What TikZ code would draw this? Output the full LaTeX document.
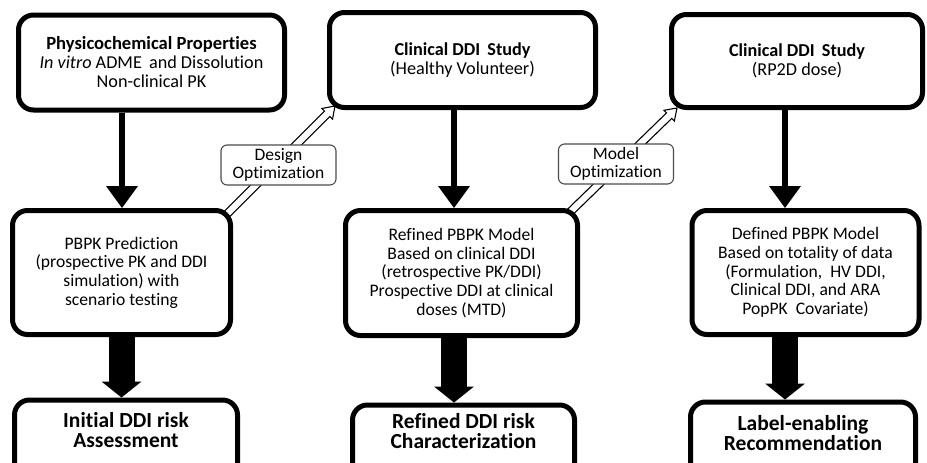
\documentclass[tikz,border=0pt]{standalone}
\usepackage{fontspec}
\setmainfont{Carlito}[Ligatures=NoCommon]
\usetikzlibrary{arrows.meta,calc}
\tikzset{
  mainbox/.style={draw=black, line width=5pt, rounded corners=15pt, fill=white, align=center,
    font=\fontsize{17.6}{18.6}\selectfont, inner sep=0pt},
  topbox/.style={mainbox, font=\fontsize{18.2}{19}\selectfont},
  optbox/.style={draw=black!70, line width=1.1pt, rounded corners=6pt, fill=white, align=center,
    minimum width=115pt, minimum height=40pt, inner sep=0pt, font=\fontsize{17.5}{18.5}\selectfont},
  thinarrow/.style={line width=6pt, -{Triangle[length=22pt,width=32pt,line width=0pt]}},
  thickarrow/.style={line width=26pt, -{Triangle[length=16pt,width=40pt,line width=0pt]}},
  bottomtext/.style={font=\fontsize{21.5}{20}\selectfont\bfseries, align=center, inner sep=0pt},
  hollow/.style={draw=black, line width=1.1pt, fill=white, line join=miter},
}
\newcommand\hollowarrow[3]{%
  \coordinate (#3) at ($(#2)!11pt!(#1)$);
  \draw[hollow] ($(#1)!3.8pt!90:(#2)$) -- ($(#3)!3.8pt!90:(#2)$) -- ($(#3)!7.5pt!90:(#2)$)
    -- (#2) -- ($(#3)!7.5pt!-90:(#2)$) -- ($(#3)!3.8pt!-90:(#2)$) -- ($(#1)!3.8pt!-90:(#2)$) -- cycle;
}
\begin{document}
\begin{tikzpicture}[x=1pt,y=-1pt]
\useasboundingbox (0,0) rectangle (927,463);
\fill[white] (0,0) rectangle (927,463);
\clip (0,0) rectangle (927,463);

% hollow connector anchors (boxes drawn after cover tails)
\coordinate (dA) at (222,219);
\coordinate (dB) at (335,106);
\coordinate (mA) at (566,216);
\coordinate (mB) at (677,108);
\hollowarrow{dA}{dB}{dC}
\hollowarrow{mA}{mB}{mC}

% top boxes
\node[topbox, minimum width=266pt, minimum height=95pt] (phys) at (151.5,62.5)
  {\textbf{\fontsize{18.6}{19}\selectfont Physicochemical Properties}\\\textit{In vitro} ADME\, and Dissolution\\Non-clinical PK};
\node[topbox, minimum width=266pt, minimum height=95pt] (hv) at (462.5,60)
  {\textbf{Clinical DDI\, Study}\\(Healthy Volunteer)};
\node[topbox, minimum width=251pt, minimum height=93pt] (rp) at (797,61)
  {\textbf{Clinical DDI\, Study}\\(RP2D dose)};

% middle boxes
\node[mainbox, minimum width=218pt, minimum height=124pt] (pbpk) at (121.5,272.5)
  {PBPK Prediction\\(prospective PK and DDI\\simulation) with\\scenario testing};
\node[mainbox, minimum width=232pt, minimum height=125pt] (ref) at (461.5,273)
  {Refined PBPK Model\\Based on clinical DDI\\(retrospective PK/DDI)\\Prospective DDI at clinical\\doses (MTD)};
\node[mainbox, minimum width=227pt, minimum height=124pt] (def) at (805.5,272.5)
  {Defined PBPK Model\\Based on totality of data\\(Formulation,\ \ HV DDI,\\Clinical DDI, and ARA\\PopPK\ \ Covariate)};

% bottom boxes
\node[mainbox, minimum width=223pt, minimum height=80pt, anchor=north] (r1) at (126,397.5) {};
\node[mainbox, minimum width=222pt, minimum height=80pt, anchor=north] (r2) at (463.5,402.5) {};
\node[mainbox, minimum width=225pt, minimum height=80pt, anchor=north] (r3) at (803,399.5) {};
\node[bottomtext] (r1t) at (126,430) {Initial DDI risk\\Assessment};
\node[bottomtext] (r2t) at (463.5,431) {Refined DDI risk\\Characterization};
\node[bottomtext] (r3t) at (803,433) {Label-enabling\\Recommendation};

% labels on hollow connectors
\node[optbox] (design) at (278.5,165) {Design\\Optimization};
\node[optbox] (model) at (616,164) {Model\\Optimization};

% vertical connectors
\draw[thinarrow] (phys.south -| 122,0) -- (pbpk.north -| 122,0);
\draw[thinarrow] (hv.south -| 454,0) -- (ref.north -| 454,0);
\draw[thinarrow] (rp.south -| 785,0) -- (def.north -| 785,0);
\draw[thickarrow] (pbpk.south -| 121.5,0) -- (r1.north -| 121.5,0);
\draw[thickarrow] (ref.south -| 454,0) -- (r2.north -| 454,0);
\draw[thickarrow] (def.south -| 785,0) -- (r3.north -| 785,0);
\end{tikzpicture}
\end{document}
